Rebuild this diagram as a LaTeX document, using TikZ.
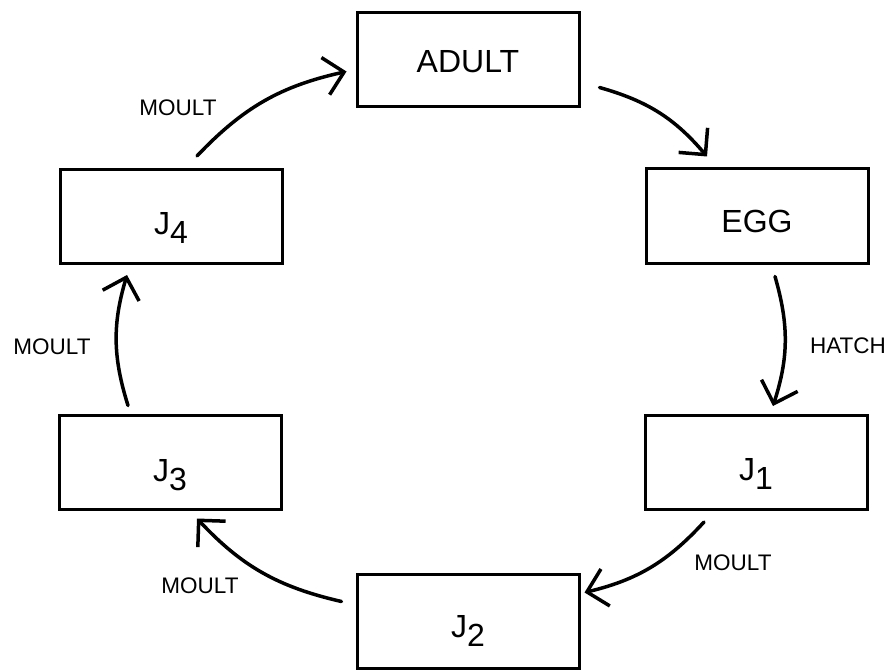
\documentclass[tikz,border=0pt]{standalone}
\usepackage{fontspec}
\setmainfont{Liberation Sans}
\usetikzlibrary{arrows.meta}
\tikzset{
  stage/.style={draw, line width=3pt, minimum width=222pt, minimum height=94pt, inner sep=0pt, font=\fontsize{32}{38}\selectfont},
  lbl/.style={inner sep=0pt, font=\fontsize{22.5}{27}\selectfont},
  cyc/.style={line width=3.5pt, line cap=round, -{Straight Barb[length=19pt,width=38pt,line width=3.5pt]}, bend left=17}
}
\newcommand{\lowtext}[2]{\raisebox{-#1}[0pt][0pt]{#2}}
\newcommand{\jsub}[1]{J\raisebox{-9pt}{#1}}
\begin{document}
\begin{tikzpicture}[x=1pt,y=-1pt]
\useasboundingbox (0,0) rectangle (896,671);
\node[stage] (adult) at (468,59.5) {\lowtext{13pt}{ADULT}};
\node[stage] (egg) at (757,216) {\lowtext{16pt}{EGG}};
\node[stage] (j1) at (756,462.5) {\lowtext{18pt}{\jsub{1}}};
\node[stage] (j2) at (468,621.5) {\lowtext{16pt}{\jsub{2}}};
\node[stage] (j3) at (170,462) {\lowtext{19pt}{\jsub{3}}};
\node[stage] (j4) at (171,216.5) {\lowtext{18pt}{\jsub{4}}};

\node[lbl] (m1) at (178,108) {MOULT};
\node[lbl] (m2) at (52,347) {MOULT};
\node[lbl] (m3) at (200,586) {MOULT};
\node[lbl] (m4) at (733,563) {MOULT};
\node[lbl] (h) at (848,346) {HATCH};

\draw[cyc] ([shift={(26,-12)}]j4.north) to ([shift={(-9,12)}]adult.west);
\draw[cyc] ([shift={(19,28)}]adult.east) to ([shift={(-50,-11)}]egg.north);
\draw[cyc] ([shift={(18,12)}]egg.south) to ([shift={(17,-8)}]j1.north);
\draw[cyc] ([shift={(-52,11)}]j1.south) to ([shift={(4,-29)}]j2.east);
\draw[cyc] ([shift={(-14,-20)}]j2.west) to ([shift={(27,8)}]j3.south);
\draw[cyc] ([shift={(-42,-8)}]j3.north) to ([shift={(-44,10)}]j4.south);
\end{tikzpicture}
\end{document}
